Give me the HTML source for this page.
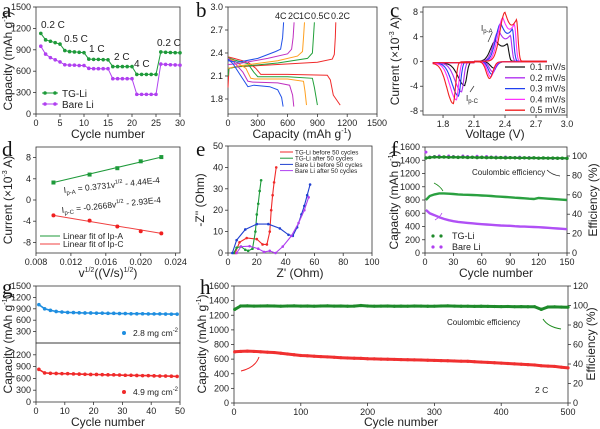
<!DOCTYPE html>
<html><head><meta charset="utf-8">
<style>
html,body{margin:0;padding:0;background:#fff;}
svg{display:block;font-family:"Liberation Sans",sans-serif;}
.t{font-size:9px;fill:#222;}
.ttl{font-size:12px;fill:#222;}
.pl{font-family:"Liberation Serif",serif;font-size:21px;fill:#111;}
.s{font-size:7px;}
</style></head>
<body>
<svg id="fig" width="600" height="429" viewBox="0 0 600 429" xmlns="http://www.w3.org/2000/svg">
<g>
<text class="pl" x="2" y="17">a</text>
<text class="pl" x="196" y="17">b</text>
<text class="pl" x="390" y="17">c</text>
<text class="pl" x="2" y="156">d</text>
<text class="pl" x="196" y="156">e</text>
<text class="pl" x="391" y="156">f</text>
<text class="pl" x="2" y="294">g</text>
<text class="pl" x="200" y="294">h</text>

<text class="ttl" transform="translate(12,61) rotate(-90)" text-anchor="middle">Capacity (mAh g<tspan class="s" dy="-5">-1</tspan><tspan dy="5">)</tspan></text>
<text class="ttl" x="108" y="138" text-anchor="middle">Cycle number</text>
<text class="ttl" x="302" y="138" text-anchor="middle">Capacity (mAh g<tspan class="s" dy="-5">-1</tspan><tspan dy="5">)</tspan></text>
<text class="ttl" transform="translate(399,61) rotate(-90)" text-anchor="middle">Current (×10<tspan class="s" dy="-5">-3</tspan><tspan dy="5"> A)</tspan></text>
<text class="ttl" x="495" y="138" text-anchor="middle">Voltage (V)</text>
<text class="ttl" transform="translate(12,200) rotate(-90)" text-anchor="middle">Current (×10<tspan class="s" dy="-5">-3</tspan><tspan dy="5"> A)</tspan></text>
<text class="ttl" x="108" y="277" text-anchor="middle">v<tspan class="s" dy="-5">1/2</tspan><tspan dy="5">((V/s)</tspan><tspan class="s" dy="-5">1/2</tspan><tspan dy="5">)</tspan></text>
<text class="ttl" transform="translate(204,200) rotate(-90)" text-anchor="middle">-Z'' (Ohm)</text>
<text class="ttl" x="300" y="277" text-anchor="middle">Z' (Ohm)</text>
<text class="ttl" transform="translate(398,200) rotate(-90)" text-anchor="middle">Capacity (mAh g<tspan class="s" dy="-5">-1</tspan><tspan dy="5">)</tspan></text>
<text class="ttl" transform="translate(597,200) rotate(-90)" text-anchor="middle">Efficiency (%)</text>
<text class="ttl" x="496" y="277" text-anchor="middle">Cycle number</text>
<text class="ttl" transform="translate(12,344) rotate(-90)" text-anchor="middle">Capacity (mAh g<tspan class="s" dy="-5">-1</tspan><tspan dy="5">)</tspan></text>
<text class="ttl" x="108" y="426" text-anchor="middle">Cycle number</text>
<text class="ttl" transform="translate(206,344) rotate(-90)" text-anchor="middle">Capacity (mAh g<tspan class="s" dy="-5">-1</tspan><tspan dy="5">)</tspan></text>
<text class="ttl" transform="translate(595,344) rotate(-90)" text-anchor="middle">Efficiency (%)</text>
<text class="ttl" x="401" y="426" text-anchor="middle">Cycle number</text>

<g font-size="10" fill="#222">
<text x="41" y="28">0.2 C</text><text x="64" y="42">0.5 C</text><text x="89" y="52">1 C</text>
<text x="114" y="60">2 C</text><text x="134" y="67">4 C</text><text x="157" y="46">0.2 C</text>
</g>
<g font-size="9" fill="#222">
<text x="275" y="19">4C</text><text x="288" y="19">2C</text><text x="299" y="19">1C</text><text x="311" y="19">0.5C</text><text x="331" y="19">0.2C</text>
</g>
<g font-size="8" fill="#222">
<text x="481" y="31">I<tspan font-size="6" dy="2">p-A</tspan></text>
<text x="466" y="101">I<tspan font-size="6" dy="2">p-C</tspan></text>
</g>
<g font-size="8.5" fill="#222">
<text transform="translate(64,193) rotate(-6)">I<tspan font-size="6" dy="2">p-A</tspan><tspan dy="-2"> = 0.3731v</tspan><tspan font-size="5.5" dy="-4">1/2</tspan><tspan dy="4"> - 4.44E-4</tspan></text>
<text transform="translate(62,213) rotate(-6)">I<tspan font-size="6" dy="2">p-C</tspan><tspan dy="-2"> = -0.2668v</tspan><tspan font-size="5.5" dy="-4">1/2</tspan><tspan dy="4"> - 2.93E-4</tspan></text>
</g>
<text x="472" y="175" font-size="8" fill="#222">Coulombic efficiency</text>
<text x="447" y="325" font-size="8" fill="#222">Coulombic efficiency</text>
<text x="535" y="393" font-size="8.5" fill="#222">2 C</text>
<path d="M543,319 Q548,327 561,329" fill="none" stroke="#1b8a1b" stroke-width="1"/>
<path d="M259,357 Q255,368 241,371" fill="none" stroke="#e22" stroke-width="1"/>
<path d="M547,170 Q552,175 560,176" fill="none" stroke="#222" stroke-width="0.8"/>
<path d="M434,183 Q440,186 443,191" fill="none" stroke="#1b8a1b" stroke-width="0.8"/>
<path d="M435,220 Q440,217 442,213" fill="none" stroke="#b040f0" stroke-width="0.8"/>
</g>
</svg>
<script>
// ---------- DATA ----------
const aCycles = [1,2,3,4,5,6,7,8,9,10,11,12,13,14,15,16,17,18,19,20,21,22,23,24,25,26,27,28,29,30];
const aTG = [1130,1040,1020,1000,980,890,875,870,865,860,770,765,765,762,760,665,665,665,665,665,555,555,555,555,555,870,865,862,860,858];
const aBare = [950,840,790,760,730,690,685,685,680,680,640,635,635,635,635,495,495,495,495,495,275,275,275,275,275,700,695,690,688,685];
const bRates = ['4C','2C','1C','0.5C','0.2C'];
const bDis4C = [[0,2.32],[50,2.26],[130,2.1],[200,1.96],[260,1.98],[420,1.96],[500,1.92],[540,1.82],[555,1.7]];
const bDis2C = [[0,2.33],[60,2.28],[150,2.15],[200,2.03],[250,2.02],[500,2.01],[620,1.98],[650,1.85],[662,1.7]];
const bDis1C = [[0,2.33],[60,2.3],[180,2.2],[230,2.07],[270,2.06],[600,2.06],[760,2.03],[775,1.9],[790,1.72]];
const bDis05C = [[0,2.34],[60,2.31],[200,2.26],[260,2.15],[300,2.09],[600,2.09],[850,2.07],[870,1.95],[900,1.72]];
const bDis02C = [[0,2.35],[60,2.33],[200,2.28],[280,2.2],[330,2.12],[600,2.12],[1000,2.11],[1030,2.05],[1060,1.85],[1130,1.72]];
const bCh4C = [[0,2.3],[100,2.28],[300,2.33],[480,2.42],[530,2.45],[550,2.6],[560,2.8]];
const bCh2C = [[0,2.25],[100,2.26],[400,2.33],[600,2.39],[640,2.45],[655,2.6],[665,2.8]];
const bCh1C = [[0,2.2],[100,2.23],[500,2.3],[700,2.36],[750,2.42],[760,2.6],[770,2.8]];
const bCh05C = [[0,2.1],[10,2.2],[100,2.22],[500,2.27],[800,2.33],[850,2.4],[860,2.6],[870,2.8]];
const bCh02C = [[0,1.95],[10,2.2],[100,2.22],[500,2.25],[900,2.28],[1050,2.32],[1070,2.38],[1080,2.6],[1085,2.8]];
const cRates = ['0.1 mV/s','0.2 mV/s','0.3 mV/s','0.4 mV/s','0.5 mV/s'];
const cAnodicI = [3.3,4.9,6.1,7.0,7.9];
const cAnodicV = [2.31,2.34,2.36,2.38,2.40];
const cCathI = [3.6,4.6,5.3,5.9,6.5];
const cCathV = [2.01,1.98,1.95,1.93,1.90];
const cCath2I = [1.0,1.6,2.0,2.4,2.7];
const cCath2V = [2.29,2.28,2.27,2.26,2.25];
const dX = [0.0100,0.01414,0.01732,0.0200,0.02236];
const dIpa = [3.3,4.8,6.0,7.3,8.1];
const dIpc = [-2.9,-3.9,-5.0,-5.9,-6.3];
const eTGBefore = [[5,0],[8,5],[13,7],[20,6.5],[24,4],[27,4],[29,10],[30,20],[31,27],[32,33],[33.5,40]];
const eTGAfter = [[4,0],[6,2.5],[9,3],[12,1.5],[14,1],[17,2],[19,10],[20,18],[21,23],[22,29],[23,34]];
const eBareBefore = [[3,0],[6,6],[12,11],[20,13.5],[28,13.5],[36,11.5],[42,8.5],[45,8],[48,12],[51,18],[53,22],[55,27],[57,32]];
const eBareAfter = [[6,0],[9,3],[15,3.2],[21,2],[25,0.5],[29,1],[33,0],[38,3],[44,8],[49,14],[53,20],[56,26]];
const fCycles = [1,5,10,15,20,25,30,35,40,45,50,55,60,65,70,75,80,85,90,95,100,105,110,115,120,125,130,135,140,145,150];
const fTG = [800,860,885,900,900,895,890,885,880,878,875,872,868,865,860,855,850,845,840,835,830,825,820,815,830,825,820,815,810,805,800];
const fBare = [650,600,570,540,515,495,480,470,462,455,448,440,435,430,425,420,415,412,410,405,400,398,395,392,390,385,380,375,370,365,360];
const fTGce = [98,98.5,99,98.8,99,98.7,98.9,98.6,98.8,98.5,98.7,98.4,98.6,98.3,98.5,98.2,98.4,98.1,98.3,98.2,98,98.2,97.9,98.1,97.8,98,97.8,97.9,97.7,97.8,97.6];
const fBarece = [104,99,99.5,100,99,100,99.5,99,100,99.5,99,99.8,99,99.5,99,99,98.5,99,98.5,98.5,98.8,98,98.5,98,98,97.8,98,97.5,97.8,97.5,97.5];
const gCycles = [1,3,5,7,9,11,13,15,17,19,21,23,25,27,29,31,33,35,37,39,41,43,45,47,49];
const gLow = [1010,900,860,830,815,805,800,795,790,790,785,785,780,780,775,775,770,770,770,765,765,765,762,760,760];
const gHigh = [830,740,730,725,720,720,715,710,705,700,700,695,690,690,685,680,680,675,670,670,665,660,660,655,650];
const hCycles = [1,10,20,30,40,50,60,70,80,90,100,110,120,130,140,150,160,170,180,190,200,210,220,230,240,250,260,270,280,290,300,310,320,330,340,350,360,370,380,390,400,410,420,430,440,450,460,470,480,490,500];
const hCap = [700,705,710,705,700,695,690,680,670,660,650,645,640,635,630,625,620,615,612,610,605,603,600,598,596,594,592,590,588,585,582,580,578,575,572,570,565,560,555,550,545,540,535,530,525,520,510,505,500,490,480];
const hCE = [96,99.5,99.6,99.4,99.5,99.6,99.5,99.3,99.5,99.6,99.4,99.5,99.3,99.5,99.6,99.4,99.5,99.3,99.4,100,99.5,99.3,99.4,99.5,99.2,99.4,99.3,99.5,99.4,99.2,99.3,99.5,99.6,99.4,99.2,99.3,99.1,99.2,99.1,99,98.9,99,98.8,98.9,98.7,98.8,96,98.5,98.6,98.4,98.3];

// ---------- HELPERS ----------
const NS = 'http://www.w3.org/2000/svg';
const svgRoot = document.getElementById('fig');
function mk(tag, attrs, name, par) {
  const e = document.createElementNS(NS, tag);
  for (const k in attrs) e.setAttribute(k, attrs[k]);
  
  
  (par || svgRoot).appendChild(e);
  return e;
}
function lin(d0, d1, r0, r1) { return v => r0 + (v - d0) * (r1 - r0) / (d1 - d0); }
function fmt(v, dec) { return (dec === undefined || dec === null) ? String(v) : v.toFixed(dec); }
function frameBox(id, l, t, r, b) {
  mk('rect', {x:l, y:t, width:r-l, height:b-t, fill:'none', stroke:'#333', 'stroke-width':0.8}, id + '-plot-frame');
}
function xTicks(id, sx, b, ticks, dec) {
  ticks.forEach(v => {
    const x = sx(v);
    mk('line', {x1:x, y1:b, x2:x, y2:b+3, stroke:'#333', 'stroke-width':0.8}, id + '-x-tick');
    const t = mk('text', {x:x, y:b+12, 'text-anchor':'middle', class:'t'}, id + '-x-tick-label');
    t.textContent = fmt(v, dec);
  });
}
function yTicks(id, sy, l, ticks, dec, right, fs) {
  ticks.forEach(v => {
    const y = sy(v);
    mk('line', {x1:l, y1:y, x2:right ? l+3 : l-3, y2:y, stroke:'#333', 'stroke-width':0.8}, id + '-y-tick');
    const t = mk('text', {x:right ? l+5 : l-5, y:y+3, 'text-anchor':right ? 'start' : 'end', class:'t', 'font-size':fs || 9}, id + '-y-tick-label');
    t.textContent = fmt(v, dec);
  });
}
function poly(pts, color, name, w) {
  mk('polyline', {points:pts.map(p => p[0].toFixed(1) + ',' + p[1].toFixed(1)).join(' '), fill:'none', stroke:color, 'stroke-width':w || 1}, name);
}
function dots(pts, color, name, r) {
  pts.forEach(p => mk('circle', {cx:p[0], cy:p[1], r:r || 1.6, fill:color}, name));
}
function gauss(v, m, s) { return Math.exp(-Math.pow((v - m) / s, 2)); }

// ---------- PANEL A ----------
{
  const sx = lin(0, 30, 36, 180), sy = lin(0, 1500, 114, 7);
  frameBox('a', 36, 7, 180, 114);
  xTicks('a', sx, 114, [0,5,10,15,20,25,30]);
  yTicks('a', sy, 36, [0,300,600,900,1200,1500]);
  const tg = aCycles.map((c,i) => [sx(c), sy(aTG[i])]);
  const bare = aCycles.map((c,i) => [sx(c), sy(aBare[i])]);
  poly(tg, '#1e9a3a', 'a-tg-li-line'); dots(tg, '#1e9a3a', 'a-tg-li-point', 1.8);
  poly(bare, '#b040f0', 'a-bare-li-line'); dots(bare, '#b040f0', 'a-bare-li-point', 1.8);
  poly([[42,93],[58,93]], '#1e9a3a', 'a-legend-tg-line'); dots([[45,93],[55,93]], '#1e9a3a', 'a-legend-tg-marker', 1.8);
  poly([[42,104],[58,104]], '#b040f0', 'a-legend-bare-line'); dots([[45,104],[55,104]], '#b040f0', 'a-legend-bare-marker', 1.8);
  const l1 = mk('text', {x:62, y:97, 'font-size':10, fill:'#222'}, 'a-legend-tg-label'); l1.textContent = 'TG-Li';
  const l2 = mk('text', {x:62, y:108, 'font-size':10, fill:'#222'}, 'a-legend-bare-label'); l2.textContent = 'Bare Li';
}
// ---------- PANEL B ----------
{
  const sx = lin(0, 1500, 228, 377), sy = lin(1.604, 3.0, 114, 7);
  frameBox('b', 228, 7, 377, 114);
  xTicks('b', sx, 114, [0,300,600,900,1200,1500]);
  yTicks('b', sy, 228, [1.8,2.1,2.4,2.7,3.0], 1);
  const cols = ['#2050e8','#c030c0','#ffa020','#22a03a','#f02a2a'];
  const dis = [bDis4C,bDis2C,bDis1C,bDis05C,bDis02C];
  const ch = [bCh4C,bCh2C,bCh1C,bCh05C,bCh02C];
  for (let i = 4; i >= 0; i--) {
    poly(dis[i].map(p => [sx(p[0]), sy(p[1])]), cols[i], 'b-discharge-' + bRates[i]);
    poly(ch[i].map(p => [sx(p[0]), sy(p[1])]), cols[i], 'b-charge-' + bRates[i]);
  }
}
// ---------- PANEL C ----------
{
  const sx = lin(1.606, 3.0, 423, 567), sy = lin(-8.65, 8.81, 115, 7);
  frameBox('c', 423, 7, 567, 115);
  xTicks('c', sx, 115, [1.8,2.1,2.4,2.7,3.0], 1);
  yTicks('c', sy, 423, [-8,-4,0,4,8]);
  const cols = ['#111','#b030f0','#2040f0','#ff30ff','#f02020'];
  for (let i = 0; i < 5; i++) {
    const up = [], dn = [];
    const pV = cAnodicV[i], a = cAnodicI[i], cV = cCathV[i];
    for (let v = 1.7; v <= 2.8001; v += 0.005) {
      let ia;
      if (v < pV) ia = a * gauss(v, pV, 0.07);
      else if (v < pV + 0.11) { const f = (v - pV) / 0.11; ia = a * (1 - 0.15 * f - 0.18 * Math.sin(Math.PI * f)); }
      else ia = 0.85 * a * gauss(v, pV + 0.11, 0.022);
      up.push([sx(v), sy(ia + (v < 2.1 ? -0.2 : 0.05))]);
      const c1 = cCathI[i] * gauss(v, cV, v > cV ? 0.03 : 0.09);
      const c2 = cCath2I[i] * gauss(v, cCath2V[i], 0.045);
      dn.push([sx(v), sy(-c1 - c2 - (v < cV ? 0.3 : 0.05))]);
    }
    poly(up.concat(dn.reverse()), cols[i], 'c-cv-curve-' + cRates[i], 1.1);
    poly([[505, 67 + i * 10.8], [525, 67 + i * 10.8]], cols[i], 'c-legend-line', 1.3);
    const t = mk('text', {x:530, y:70 + i * 10.8, 'font-size':9, fill:'#222'}, 'c-legend-label');
    t.textContent = cRates[i];
  }
  poly([[492,33],[488,42]], '#333', 'c-ipa-pointer', 0.7);
  poly([[470,92],[474,86]], '#333', 'c-ipc-pointer', 0.7);
}
// ---------- PANEL D ----------
{
  const sx = lin(0.008, 0.0245, 36, 180), sy = lin(-10, 10, 253, 147);
  frameBox('d', 36, 147, 180, 253);
  xTicks('d', sx, 253, [0.008,0.012,0.016,0.020,0.024], 3);
  yTicks('d', sy, 36, [-8,-4,0,4,8]);
  const pa = dX.map((x,i) => [sx(x), sy(dIpa[i])]);
  const pc = dX.map((x,i) => [sx(x), sy(dIpc[i])]);
  poly([pa[0], pa[4]], '#1e9a3a', 'd-fit-ipa-line');
  pa.forEach(p => mk('rect', {x:p[0]-2, y:p[1]-2, width:4, height:4, fill:'#1e9a3a'}, 'd-ipa-point'));
  poly([pc[0], pc[4]], '#f04040', 'd-fit-ipc-line');
  pc.forEach(p => mk('circle', {cx:p[0], cy:p[1], r:2, fill:'#f02020'}, 'd-ipc-point'));
  poly([[40,236],[60,236]], '#1e9a3a', 'd-legend-ipa-line');
  poly([[40,244],[60,244]], '#f04040', 'd-legend-ipc-line');
  const t1 = mk('text', {x:63, y:239, 'font-size':8.5, fill:'#222'}, 'd-legend-ipa-label'); t1.textContent = 'Linear fit of Ip-A';
  const t2 = mk('text', {x:63, y:247, 'font-size':8.5, fill:'#222'}, 'd-legend-ipc-label'); t2.textContent = 'Linear fit of Ip-C';
}
// ---------- PANEL E ----------
{
  const sx = lin(0, 100, 228, 372), sy = lin(0, 50, 253, 146);
  frameBox('e', 228, 146, 372, 253);
  xTicks('e', sx, 253, [0,20,40,60,80,100]);
  yTicks('e', sy, 228, [0,10,20,30,40,50]);
  const ser = [[eTGBefore,'#f02a2a','TG-Li before 50 cycles'],[eTGAfter,'#1e9a3a','TG-Li after 50 cycles'],[eBareBefore,'#2040d0','Bare Li before 50 cycles'],[eBareAfter,'#b040f0','Bare Li after 50 cycles']];
  ser.forEach((s, i) => {
    const pts = s[0].map(p => [sx(p[0]), sy(p[1])]);
    poly(pts, s[1], 'e-nyquist-' + i, 1.1); dots(pts, s[1], 'e-nyquist-point', 1.3);
    poly([[280, 152 + i * 6.2], [293, 152 + i * 6.2]], s[1], 'e-legend-line');
    const t = mk('text', {x:295, y:154.5 + i * 6.2, 'font-size':6.3, fill:'#222'}, 'e-legend-label'); t.textContent = s[2];
  });
}
// ---------- PANEL F ----------
{
  const sx = lin(0, 150, 425, 567), sy = lin(0, 1600, 253, 147), sr = lin(0, 109.3, 253, 147);
  frameBox('f', 425, 147, 567, 253);
  xTicks('f', sx, 253, [0,30,60,90,120,150]);
  yTicks('f', sy, 425, [0,200,400,600,800,1000,1200,1400,1600], null, false, 8.5);
  yTicks('f', sr, 567, [0,20,40,60,80,100], null, true, 8.5);
  dots(fCycles.map((c,i) => [sx(c), sr(fBarece[i])]), '#b040f0', 'f-bare-ce-point', 1.5);
  dots(fCycles.map((c,i) => [sx(c), sr(fTGce[i])]), '#1e8a2a', 'f-tg-ce-point', 1.7);
  poly(fCycles.map((c,i) => [sx(c), sr(fTGce[i])]), '#1e8a2a', 'f-tg-ce-line', 2.2);
  poly(fCycles.map((c,i) => [sx(c), sy(fTG[i])]), '#2aa040', 'f-tg-capacity-line', 2.4);
  poly(fCycles.map((c,i) => [sx(c), sy(fBare[i])]), '#b050f5', 'f-bare-capacity-line', 2.4);
  dots([[433,236],[441,236]], '#1e8a2a', 'f-legend-tg-marker', 1.6);
  dots([[433,247],[441,247]], '#b040f0', 'f-legend-bare-marker', 1.6);
  const t1 = mk('text', {x:452, y:239, 'font-size':9, fill:'#222'}, 'f-legend-tg-label'); t1.textContent = 'TG-Li';
  const t2 = mk('text', {x:452, y:250, 'font-size':9, fill:'#222'}, 'f-legend-bare-label'); t2.textContent = 'Bare Li';
}
// ---------- PANEL G ----------
{
  const sx = lin(0, 50, 36, 180), syT = lin(0, 1500, 343, 286), syB = lin(0, 1500, 402, 343);
  frameBox('g-top', 36, 286, 180, 343);
  frameBox('g-bottom', 36, 343, 180, 402);
  xTicks('g', sx, 402, [0,10,20,30,40,50]);
  yTicks('g-top', syT, 36, [300,600,900,1200,1500], null, false, 8.5);
  yTicks('g-bottom', syB, 36, [0,300,600,900,1200], null, false, 8.5);
  dots(gCycles.map((c,i) => [sx(c), syT(gLow[i])]), '#1e8ee0', 'g-2.8mg-point', 1.8);
  poly(gCycles.map((c,i) => [sx(c), syT(gLow[i])]), '#1e8ee0', 'g-2.8mg-line', 1.6);
  dots(gCycles.map((c,i) => [sx(c), syB(gHigh[i])]), '#f02a2a', 'g-4.9mg-point', 1.8);
  poly(gCycles.map((c,i) => [sx(c), syB(gHigh[i])]), '#f02a2a', 'g-4.9mg-line', 1.6);
  dots([[124,333]], '#1e8ee0', 'g-legend-marker', 2);
  dots([[124,392]], '#f02a2a', 'g-legend-marker', 2);
  const t1 = mk('text', {x:133, y:336, 'font-size':8.5, fill:'#222'}, 'g-legend-label'); t1.innerHTML = '2.8 mg cm<tspan font-size="6" dy="-4">-2</tspan>';
  const t2 = mk('text', {x:133, y:395, 'font-size':8.5, fill:'#222'}, 'g-legend-label'); t2.innerHTML = '4.9 mg cm<tspan font-size="6" dy="-4">-2</tspan>';
}
// ---------- PANEL H ----------
{
  const sx = lin(0, 500, 234, 568), sy = lin(0, 1600, 403, 286), sr = lin(0, 120, 403, 286);
  frameBox('h', 234, 286, 568, 403);
  xTicks('h', sx, 403, [0,100,200,300,400,500]);
  yTicks('h', sy, 234, [0,200,400,600,800,1000,1200,1400,1600], null, false, 8.5);
  yTicks('h', sr, 568, [0,20,40,60,80,100,120], null, true, 8.5);
  poly(hCycles.map((c,i) => [sx(c), sr(hCE[i])]), '#1e8a2a', 'h-ce-line', 3);
  poly(hCycles.map((c,i) => [sx(c), sy(hCap[i])]), '#f03030', 'h-capacity-line', 3);
  dots(hCycles.map((c,i) => [sx(c), sy(hCap[i])]), '#f03030', 'h-capacity-point', 1.6);
  dots(hCycles.map((c,i) => [sx(c), sr(hCE[i])]), '#1e8a2a', 'h-ce-point', 1.6);
}
</script>
</body></html>
